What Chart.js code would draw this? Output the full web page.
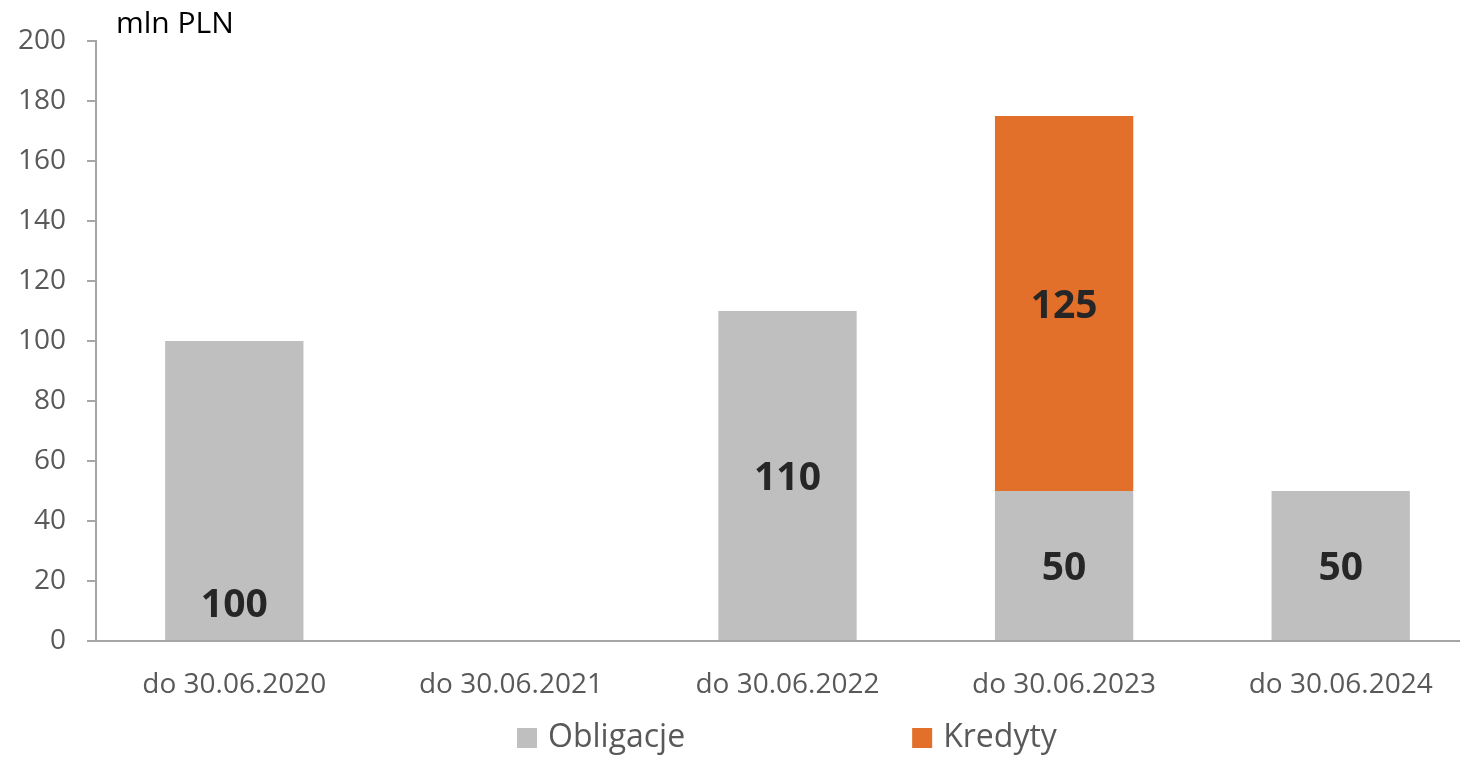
<!DOCTYPE html>
<html>
<head>
<meta charset="utf-8">
<script src="https://cdn.jsdelivr.net/npm/chart.js@4"></script>
<style>
  html, body { margin: 0; padding: 0; background: #fff; overflow: hidden; }
  #wrap { position: absolute; left: 0; top: 0; width: 1480px; height: 758px; }
</style>
</head>
<body>
<div id="wrap"><canvas id="chart" width="1480" height="758"></canvas></div>
<script>
// --- données ---
const categories = ['do 30.06.2020', 'do 30.06.2021', 'do 30.06.2022', 'do 30.06.2023', 'do 30.06.2024'];
const obligacje = [100, null, 110, 50, 50];
const kredyty = [null, null, null, 125, null];
const yTicks = [0, 20, 40, 60, 80, 100, 120, 140, 160, 180, 200];
const unitLabel = 'mln PLN';

const FONT = '"Open Sans", "Noto Sans", sans-serif';
const GREY = '#bfbfbf';
const ORANGE = '#e2702a';
const AXIS = '#a6a6a6';

// étiquettes de valeurs dans les barres
const valueLabels = {
    id: 'valueLabels',
    afterDatasetsDraw(chart) {
        const ctx = chart.ctx;
        ctx.save();
        ctx.font = 'bold 39px ' + FONT;
        ctx.fillStyle = '#262626';
        ctx.textAlign = 'center';
        ctx.textBaseline = 'middle';
        chart.data.datasets.forEach((ds, di) => {
            chart.getDatasetMeta(di).data.forEach((bar, i) => {
                const v = ds.data[i];
                if (v == null) return;
                let y = (bar.y + bar.base) / 2;
                // la première barre a son étiquette posée en bas
                if (di === 0 && i === 0) y = bar.base - 37;
                ctx.fillText(String(v), bar.x, y + 3);
            });
        });
        ctx.restore();
    }
};

// titre d'unité + légende
const extras = {
    id: 'extras',
    afterDraw(chart) {
        const ctx = chart.ctx;
        ctx.save();
        ctx.font = '30px ' + FONT;
        ctx.fillStyle = '#000';
        ctx.textAlign = 'left';
        ctx.textBaseline = 'alphabetic';
        ctx.fillText(unitLabel, 116, 33);

        ctx.font = '32px ' + FONT;
        ctx.textBaseline = 'middle';
        let x = 517;
        const yc = 738;
        chart.data.datasets.forEach(ds => {
            ctx.fillStyle = ds.backgroundColor;
            ctx.fillRect(x, yc - 10, 20, 20);
            ctx.fillStyle = '#595959';
            ctx.fillText(ds.label, x + 31, yc);
            x += 31 + ctx.measureText(ds.label).width + 227;
        });
        ctx.restore();
    }
};

new Chart(document.getElementById('chart').getContext('2d'), {
    type: 'bar',
    data: {
        labels: categories,
        datasets: [
            { label: 'Obligacje', data: obligacje, backgroundColor: GREY },
            { label: 'Kredyty', data: kredyty, backgroundColor: ORANGE }
        ]
    },
    options: {
        responsive: false,
        animation: false,
        devicePixelRatio: 1,
        layout: { padding: { top: 41, right: 1, bottom: 57, left: 0 } },
        datasets: { bar: { categoryPercentage: 1, barPercentage: 0.5 } },
        plugins: { legend: { display: false }, tooltip: { enabled: false } },
        scales: {
            x: {
                stacked: true,
                grid: { display: false, drawTicks: false },
                border: { color: AXIS, width: 2 },
                ticks: { color: '#595959', font: { family: FONT, size: 28 }, padding: 27, maxRotation: 0 },
                afterFit(scale) { scale.height = 60; }
            },
            y: {
                stacked: true,
                min: 0,
                max: 200,
                afterBuildTicks(scale) { scale.ticks = yTicks.map(v => ({ value: v })); },
                grid: { drawOnChartArea: false, drawTicks: true, tickLength: 9, color: AXIS, lineWidth: 2 },
                border: { color: AXIS, width: 2 },
                ticks: { color: '#595959', font: { family: FONT, size: 28 }, padding: 21 },
                afterFit(scale) { scale.width = 96; }
            }
        }
    },
    plugins: [valueLabels, extras]
});
</script>
</body>
</html>
